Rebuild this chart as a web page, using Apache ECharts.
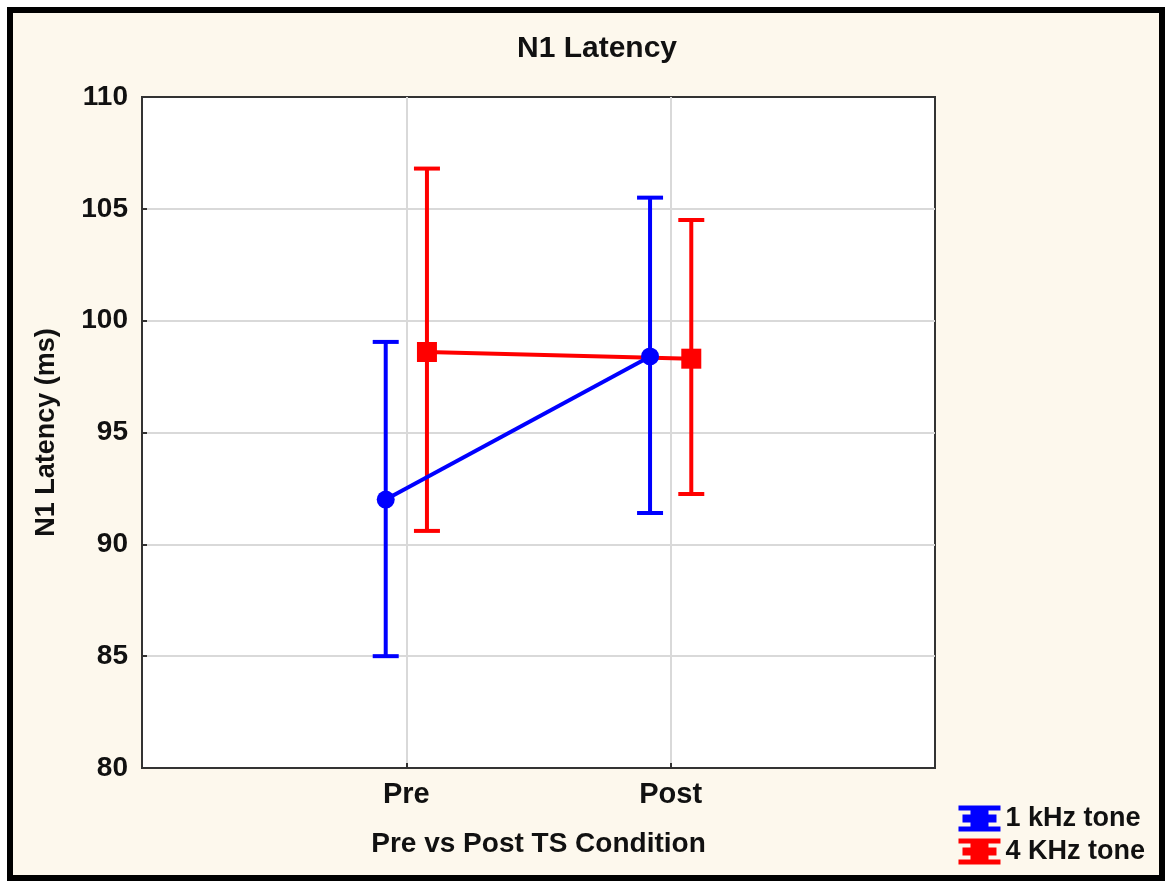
<!DOCTYPE html>
<html>
<head>
<meta charset="utf-8">
<title>N1 Latency</title>
<script src="https://cdn.jsdelivr.net/npm/echarts@6/dist/echarts.min.js"></script>
<style>
    html, body { margin: 0; padding: 0; background: #ffffff; }
    #main { width: 1170px; height: 881px; }
</style>
</head>
<body>
<div id="main"></div>
<script>
// 数据
var categories = ['Pre', 'Post'];
var toneNames = ['1 kHz tone', '4 KHz tone'];
var toneColors = ['#0000ff', '#ff0000'];
// 1 kHz
var meanTone1 = [92.0, 98.4];
var lowTone1 = [85.0, 91.4];
var highTone1 = [99.05, 105.5];
// 4 kHz
var meanTone4 = [98.6, 98.3];
var lowTone4 = [90.6, 92.25];
var highTone4 = [106.8, 104.5];

var FONT = '"Liberation Sans", Arial, sans-serif';
var SHIFT = 0.078;   // 两组之间的水平错开

// 类别序号 -> x 坐标 (Pre=1, Post=2)
function xPos(index, dir) {
    return index + 1 + dir * SHIFT;
}

function meanData(list, dir) {
    return list.map(function (v, i) {
        return [xPos(i, dir), v];
    });
}

function barData(lows, highs, dir) {
    return lows.map(function (v, i) {
        return [xPos(i, dir), v, highs[i]];
    });
}

// 误差线
function makeErrorRender(color) {
    return function (params, api) {
        var x = api.value(0);
        var top = api.coord([x, api.value(2)]);
        var bot = api.coord([x, api.value(1)]);
        var half = 13;
        var style = { stroke: color, lineWidth: 4 };
        return {
            type: 'group',
            children: [
                { type: 'line', shape: { x1: top[0], y1: top[1], x2: bot[0], y2: bot[1] }, style: style },
                { type: 'line', shape: { x1: top[0] - half, y1: top[1], x2: top[0] + half, y2: top[1] }, style: style },
                { type: 'line', shape: { x1: bot[0] - half, y1: bot[1], x2: bot[0] + half, y2: bot[1] }, style: style }
            ]
        };
    };
}

var legendIcon = 'path://M0,0H42V5H30V9H38V17H30V21H42V26H0V21H12V17H4V9H12V5H0Z';

var chart = echarts.init(document.getElementById('main'));

var option = {
    backgroundColor: '#ffffff',
    animation: false,
    graphic: [{
        type: 'rect',
        z: -10,
        shape: { x: 10, y: 10, width: 1152, height: 868 },
        style: { fill: '#fdf8ed', stroke: '#000000', lineWidth: 6 }
    }],
    title: {
        text: 'N1 Latency',
        left: 592,
        textAlign: 'center',
        top: 29,
        textStyle: { fontFamily: FONT, fontSize: 30, fontWeight: 'bold', color: '#111' }
    },
    legend: {
        orient: 'vertical',
        right: 20,
        bottom: 11,
        itemWidth: 42,
        itemHeight: 26,
        itemGap: 6,
        data: [
            { name: toneNames[0], icon: legendIcon },
            { name: toneNames[1], icon: legendIcon }
        ],
        textStyle: { fontFamily: FONT, fontSize: 27, fontWeight: 'bold', color: '#111', padding: [0, 0, 0, 0] }
    },
    grid: {
        left: 142,
        top: 97,
        right: 235,
        bottom: 113,
        show: true,
        backgroundColor: '#ffffff',
        borderColor: '#333333',
        borderWidth: 2
    },
    xAxis: {
        type: 'value',
        min: 0,
        max: 3,
        interval: 1,
        name: 'Pre vs Post TS Condition',
        nameLocation: 'middle',
        nameGap: 62,
        nameTextStyle: { fontFamily: FONT, fontSize: 28, fontWeight: 'bold', color: '#111' },
        axisLine: { show: true, lineStyle: { color: '#333', width: 2 } },
        axisTick: { show: true, inside: true, length: 5, lineStyle: { color: '#333', width: 2 } },
        axisLabel: {
            margin: 12,
            fontFamily: FONT, fontSize: 29, fontWeight: 'bold', color: '#111',
            formatter: function (v) {
                return categories[v - 1] || '';
            }
        },
        splitLine: { show: true, showMinLine: false, showMaxLine: false, lineStyle: { color: '#d9d9d9', width: 2 } }
    },
    yAxis: {
        type: 'value',
        min: 80,
        max: 110,
        interval: 5,
        name: 'N1 Latency (ms)',
        nameLocation: 'middle',
        nameGap: 82,
        nameTextStyle: { fontFamily: FONT, fontSize: 27, fontWeight: 'bold', color: '#111' },
        axisLine: { show: true, lineStyle: { color: '#333', width: 2 } },
        axisTick: { show: true, inside: true, length: 5, lineStyle: { color: '#333', width: 2 } },
        axisLabel: { margin: 14, fontFamily: FONT, fontSize: 28, fontWeight: 'bold', color: '#111' },
        splitLine: { show: true, showMinLine: false, showMaxLine: false, lineStyle: { color: '#d9d9d9', width: 2 } }
    },
    series: [
        {
            name: toneNames[1],
            type: 'custom',
            renderItem: makeErrorRender(toneColors[1]),
            itemStyle: { color: toneColors[1] },
            encode: { x: 0, y: [1, 2] },
            data: barData(lowTone4, highTone4, 1),
            z: 2
        },
        {
            name: toneNames[1],
            type: 'line',
            symbol: 'rect',
            symbolSize: 20,
            color: toneColors[1],
            lineStyle: { width: 4, color: toneColors[1] },
            itemStyle: { color: toneColors[1] },
            data: meanData(meanTone4, 1),
            z: 3
        },
        {
            name: toneNames[0],
            type: 'custom',
            renderItem: makeErrorRender(toneColors[0]),
            itemStyle: { color: toneColors[0] },
            encode: { x: 0, y: [1, 2] },
            data: barData(lowTone1, highTone1, -1),
            z: 4
        },
        {
            name: toneNames[0],
            type: 'line',
            symbol: 'circle',
            symbolSize: 18,
            color: toneColors[0],
            lineStyle: { width: 4, color: toneColors[0] },
            itemStyle: { color: toneColors[0] },
            data: meanData(meanTone1, -1),
            z: 5
        }
    ]
};

chart.setOption(option);
</script>
</body>
</html>
